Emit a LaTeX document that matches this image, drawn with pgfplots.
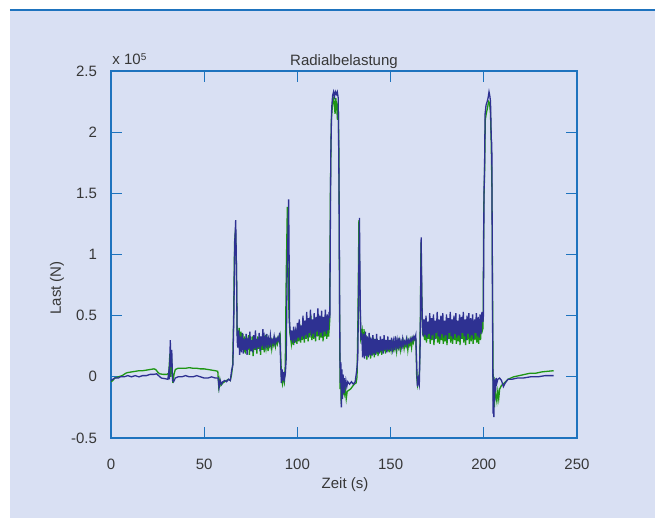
\documentclass[border=0pt]{standalone}
\usepackage{pgfplots}
\pgfplotsset{compat=1.18}
\usepackage{fontspec}
\setmainfont{Liberation Sans}
\definecolor{bgc}{RGB}{217,224,243}
\definecolor{axc}{RGB}{30,115,190}
\definecolor{txtc}{RGB}{55,55,55}
\definecolor{lgreen}{RGB}{30,150,20}
\definecolor{lblue}{RGB}{46,49,146}
\begin{document}
\begin{tikzpicture}
\path[use as bounding box] (-55.5bp,-40bp) rectangle (272bp,219bp);
\fill[bgc] (-50.5bp,-40bp) rectangle (272bp,214bp);
\draw[axc, line width=1bp] (-50.5bp,214bp) -- (272bp,214bp);
\begin{axis}[
  at={(0,0)}, anchor=south west,
  scale only axis, width=233bp, height=183.5bp,
  xmin=0, xmax=250, ymin=-0.5, ymax=2.5,
  xtick={0,50,...,250}, ytick={-0.5,0,0.5,1,1.5,2,2.5},
  axis line style={axc, line width=0.75bp},
  tick style={axc, line width=0.6bp},
  major tick length=5.5bp, tick align=inside,
  /pgf/number format/assume math mode=true,
  every tick label/.append style={font=\fontsize{7.5bp}{9bp}\selectfont, text=txtc},
  yticklabel style={xshift=-3.5bp},
  xticklabel style={yshift=-7bp},
]
% green series
\addplot[lgreen, line width=0.65bp] coordinates {
(0,-0.04)(1,-0.03)(2,-0.01)(4,0.0)(6,0.01)(8,0.03)(9,0.035)(11,0.04)(13,0.045)(15,0.05)(17,0.05)(19,0.055)(21,0.06)(23,0.065)(24,0.06)(25,0.04)(26,0.025)(28,0.02)(30,0.02)(31,0.03)(31.6,0.19)(32,0.0)(32.5,0.15)(33.2,-0.05)(33.8,0.02)(34.5,0.06)(36,0.07)(38,0.07)(40,0.07)(42,0.075)(44,0.07)(46,0.07)(48,0.065)(50,0.065)(52,0.06)(54,0.055)(56,0.05)(57.3,0.045)(57.8,-0.08)(58.4,-0.02)(59,-0.07)(60,-0.05)(61,-0.04)(62,-0.03)(63,-0.02)(64,-0.03)(64.7,0.02)(65.3,0.1)(65.8,0.5)(66.3,1.1)(66.8,1.2)(67.3,0.9)(67.7,0.35)
(68.25,0.30)(68.75,0.40)(69.25,0.26)(69.75,0.37)(70.25,0.24)(70.75,0.35)(71.25,0.20)(71.75,0.33)(72.25,0.19)(72.75,0.31)(73.25,0.22)(73.75,0.34)(74.25,0.18)(74.75,0.30)(75.25,0.21)(75.75,0.33)(76.25,0.17)(76.75,0.31)(77.25,0.22)(77.75,0.29)(78.25,0.19)(78.75,0.33)(79.25,0.23)(79.75,0.30)(80.25,0.18)(80.75,0.32)(81.25,0.22)(81.75,0.29)(82.25,0.20)(82.75,0.34)(83.25,0.24)(83.75,0.30)(84.25,0.21)(84.75,0.29)(85.25,0.25)(85.75,0.32)(86.25,0.23)(86.75,0.29)(87.25,0.26)(87.75,0.31)(88.25,0.25)(88.75,0.30)(89.25,0.27)(89.75,0.32)(90.25,0.29)(90.75,0.33)
(91,0.2)(91.5,-0.02)(92,-0.06)(92.5,0.0)(93,-0.04)(93.5,0.1)(94,0.82)(94.6,1.39)(95,0.9)(95.5,0.5)(96,0.35)
(96.25,0.33)(96.75,0.27)(97.25,0.36)(97.75,0.26)(98.25,0.38)(98.75,0.28)(99.25,0.35)(99.75,0.27)(100.25,0.40)(100.75,0.29)(101.25,0.43)(101.75,0.28)(102.25,0.39)(102.75,0.30)(103.25,0.46)(103.75,0.28)(104.25,0.42)(104.75,0.31)(105.25,0.48)(105.75,0.29)(106.25,0.44)(106.75,0.32)(107.25,0.50)(107.75,0.30)(108.25,0.43)(108.75,0.31)(109.25,0.47)(109.75,0.29)(110.25,0.45)(110.75,0.33)(111.25,0.51)(111.75,0.30)(112.25,0.46)(112.75,0.32)(113.25,0.49)(113.75,0.29)(114.25,0.45)(114.75,0.33)(115.25,0.50)(115.75,0.31)(116.25,0.46)(116.75,0.33)
(117.3,0.45)(117.7,1.5)(118.2,2.1)(118.7,2.2)(119.2,2.28)(119.7,2.25)(120.2,2.15)(120.6,2.28)(121.1,2.2)(121.5,2.1)(121.9,2.25)(122.3,1.8)(122.6,0.6)(122.9,-0.1)(123.2,0.05)(123.5,-0.22)(123.9,-0.05)(124.3,-0.15)(124.7,-0.08)(125.2,-0.14)(125.7,-0.1)(126.2,-0.18)(126.7,-0.12)(127.5,-0.11)(128.5,-0.1)(129.5,-0.08)(130.5,-0.06)(131.5,-0.05)(132,0.0)(132.5,0.5)(133,1.28)(133.5,0.7)(134,0.32)
(134.75,0.38)(135.25,0.22)(135.75,0.39)(136.25,0.18)(136.75,0.34)(137.25,0.14)(137.75,0.31)(138.25,0.17)(138.75,0.33)(139.25,0.15)(139.75,0.30)(140.25,0.18)(140.75,0.32)(141.25,0.16)(141.75,0.29)(142.25,0.19)(142.75,0.31)(143.25,0.17)(143.75,0.28)(144.25,0.20)(144.75,0.30)(145.25,0.18)(145.75,0.29)(146.25,0.21)(146.75,0.31)(147.25,0.19)(147.75,0.28)(148.25,0.21)(148.75,0.30)(149.25,0.20)(149.75,0.27)(150.25,0.22)(150.75,0.30)(151.25,0.20)(151.75,0.27)(152.25,0.23)(152.75,0.29)(153.25,0.21)(153.75,0.28)(154.25,0.24)(154.75,0.29)(155.25,0.22)(155.75,0.28)(156.25,0.25)(156.75,0.29)(157.25,0.23)(157.75,0.28)(158.25,0.25)(158.75,0.30)(159.25,0.22)(159.75,0.29)(160.25,0.26)(160.75,0.30)(161.25,0.24)(161.75,0.31)(162.25,0.28)(162.75,0.32)(163.25,0.30)
(163.6,0.3)(164,0.0)(164.5,-0.07)(165,-0.03)(165.5,0.05)(166,0.5)(166.3,1.1)(166.7,0.7)(167.2,0.35)
(167.75,0.36)(168.25,0.30)(168.75,0.42)(169.25,0.28)(169.75,0.40)(170.25,0.31)(170.75,0.45)(171.25,0.27)(171.75,0.41)(172.25,0.30)(172.75,0.44)(173.25,0.26)(173.75,0.39)(174.25,0.31)(174.75,0.46)(175.25,0.28)(175.75,0.40)(176.25,0.27)(176.75,0.43)(177.25,0.30)(177.75,0.45)(178.25,0.27)(178.75,0.39)(179.25,0.29)(179.75,0.44)(180.25,0.26)(180.75,0.41)(181.25,0.31)(181.75,0.46)(182.25,0.28)(182.75,0.40)(183.25,0.27)(183.75,0.43)(184.25,0.30)(184.75,0.45)(185.25,0.27)(185.75,0.39)(186.25,0.29)(186.75,0.44)(187.25,0.26)(187.75,0.42)(188.25,0.31)(188.75,0.46)(189.25,0.28)(189.75,0.40)(190.25,0.26)(190.75,0.43)(191.25,0.30)(191.75,0.45)(192.25,0.27)(192.75,0.41)(193.25,0.29)(193.75,0.44)(194.25,0.27)(194.75,0.40)(195.25,0.30)(195.75,0.45)(196.25,0.28)(196.75,0.42)(197.25,0.27)(197.75,0.44)(198.25,0.30)(198.75,0.45)(199.25,0.38)
(199.6,0.4)(200,1.4)(200.4,1.65)(200.8,2.1)(201.3,2.15)(202,2.2)(202.6,2.25)(203.1,2.24)(203.6,2.15)(204,1.9)(204.4,1.5)(204.8,0.4)(205.1,-0.2)(205.4,0.0)(205.7,-0.25)(206,-0.05)(206.5,-0.15)(207,-0.2)(207.5,-0.12)(208,-0.18)(208.5,-0.1)(209.5,-0.07)(211,-0.05)(213,-0.02)(216,0.0)(219,0.01)(222,0.02)(225,0.03)(228,0.03)(231,0.04)(234,0.045)(237.5,0.05)
};
% blue series
\addplot[lblue, line width=0.65bp] coordinates {
(0,-0.03)(1,-0.02)(2,-0.01)(4,-0.01)(5,0.0)(7,0.0)(9,0.01)(11,0.0)(13,0.01)(15,0.0)(17,0.01)(19,0.01)(21,0.02)(23,0.02)(24.5,0.025)(25.5,0.01)(27,-0.01)(29,-0.015)(30.5,-0.02)(31,0.04)(31.4,-0.02)(31.8,0.30)(32.2,0.08)(32.6,0.22)(33.0,-0.03)(33.6,-0.04)(34.5,-0.01)(36,0.0)(38,0.0)(40,0.01)(42,0.0)(44,0.0)(46,0.01)(48,0.0)(50,-0.01)(52,-0.01)(54,0.0)(56,-0.01)(57.5,-0.01)(58,-0.09)(58.6,-0.03)(59.3,-0.06)(60,-0.04)(61,-0.03)(62,-0.04)(63,-0.02)(64,-0.03)(64.7,0.05)(65.4,0.1)(65.9,0.5)(66.4,1.1)(66.9,1.28)(67.3,0.9)(67.7,0.3)
(68.0,0.24)(68.5,0.38)(69.0,0.18)(69.5,0.33)(70.0,0.20)(70.5,0.36)(71.0,0.19)(71.5,0.31)(72.0,0.22)(72.5,0.35)(73.0,0.18)(73.5,0.32)(74.0,0.23)(74.5,0.37)(75.0,0.21)(75.5,0.30)(76.0,0.20)(76.5,0.34)(77.0,0.23)(77.5,0.38)(78.0,0.22)(78.5,0.31)(79.0,0.24)(79.5,0.36)(80.0,0.21)(80.5,0.33)(81.0,0.25)(81.5,0.39)(82.0,0.23)(82.5,0.32)(83.0,0.26)(83.5,0.35)(84.0,0.24)(84.5,0.31)(85.0,0.27)(85.5,0.34)(86.0,0.26)(86.5,0.30)(87.0,0.28)(87.5,0.33)(88.0,0.27)(88.5,0.31)(89.0,0.29)(89.5,0.32)(90.0,0.30)(90.5,0.36)
(91.0,0.12)(91.4,-0.05)(91.8,0.06)(92.2,-0.03)(92.6,0.04)(93.0,-0.02)(93.5,0.02)(94.0,0.15)(94.5,0.85)(95.0,1.2)(95.3,1.45)(95.6,0.9)(95.8,0.45)
(96.0,0.40)(96.5,0.30)(97.0,0.38)(97.5,0.28)(98.0,0.41)(98.5,0.31)(99.0,0.37)(99.5,0.29)(100.0,0.44)(100.5,0.32)(101.0,0.47)(101.5,0.30)(102.0,0.42)(102.5,0.33)(103.0,0.50)(103.5,0.31)(104.0,0.46)(104.5,0.34)(105.0,0.53)(105.5,0.32)(106.0,0.48)(106.5,0.36)(107.0,0.55)(107.5,0.33)(108.0,0.47)(108.5,0.35)(109.0,0.52)(109.5,0.32)(110.0,0.49)(110.5,0.37)(111.0,0.56)(111.5,0.34)(112.0,0.50)(112.5,0.36)(113.0,0.54)(113.5,0.33)(114.0,0.49)(114.5,0.37)(115.0,0.55)(115.5,0.35)(116.0,0.51)(116.5,0.38)(117.0,0.53)
(117.4,0.48)(117.9,1.8)(118.4,2.2)(118.9,2.3)(119.4,2.33)(119.9,2.29)(120.4,2.33)(120.9,2.31)(121.4,2.33)(121.9,2.28)(122.3,1.6)(122.7,0.5)(123.0,-0.05)(123.3,0.12)(123.6,-0.25)(123.9,0.06)(124.2,-0.18)(124.5,0.02)(124.8,-0.13)(125.1,-0.01)(125.5,-0.09)(126,-0.03)(126.5,-0.08)(127,-0.04)(128,-0.06)(129,-0.04)(130,-0.06)(131,-0.04)(131.8,0.05)(132.4,0.15)(132.9,0.8)(133.3,1.3)(133.7,0.6)(134.1,0.3)
(134.5,0.36)(135.0,0.16)(135.5,0.35)(136.0,0.15)(136.5,0.37)(137.0,0.17)(137.5,0.33)(138.0,0.16)(138.5,0.36)(139.0,0.18)(139.5,0.32)(140.0,0.17)(140.5,0.34)(141.0,0.19)(141.5,0.31)(142.0,0.18)(142.5,0.35)(143.0,0.20)(143.5,0.30)(144.0,0.19)(144.5,0.33)(145.0,0.21)(145.5,0.31)(146.0,0.19)(146.5,0.34)(147.0,0.22)(147.5,0.30)(148.0,0.20)(148.5,0.33)(149.0,0.22)(149.5,0.30)(150.0,0.21)(150.5,0.32)(151.0,0.23)(151.5,0.29)(152.0,0.22)(152.5,0.33)(153.0,0.24)(153.5,0.30)(154.0,0.23)(154.5,0.32)(155.0,0.25)(155.5,0.29)(156.0,0.24)(156.5,0.31)(157.0,0.26)(157.5,0.29)(158.0,0.27)(158.5,0.31)(159.0,0.26)(159.5,0.30)(160.0,0.28)(160.5,0.31)(161.0,0.29)(161.5,0.32)(162.0,0.30)(162.5,0.33)(163.0,0.31)(163.5,0.34)
(164.0,0.1)(164.4,-0.08)(164.9,-0.02)(165.4,-0.06)(165.9,0.3)(166.4,1.14)(166.8,0.6)(167.2,0.4)
(167.5,0.33)(168.0,0.47)(168.5,0.34)(169.0,0.50)(169.5,0.32)(170.0,0.45)(170.5,0.35)(171.0,0.52)(171.5,0.31)(172.0,0.48)(172.5,0.34)(173.0,0.51)(173.5,0.30)(174.0,0.46)(174.5,0.36)(175.0,0.53)(175.5,0.33)(176.0,0.47)(176.5,0.31)(177.0,0.50)(177.5,0.35)(178.0,0.52)(178.5,0.32)(179.0,0.46)(179.5,0.34)(180.0,0.51)(180.5,0.30)(181.0,0.48)(181.5,0.36)(182.0,0.53)(182.5,0.33)(183.0,0.47)(183.5,0.31)(184.0,0.50)(184.5,0.35)(185.0,0.52)(185.5,0.32)(186.0,0.46)(186.5,0.34)(187.0,0.51)(187.5,0.31)(188.0,0.49)(188.5,0.36)(189.0,0.53)(189.5,0.33)(190.0,0.47)(190.5,0.30)(191.0,0.50)(191.5,0.35)(192.0,0.52)(192.5,0.32)(193.0,0.48)(193.5,0.34)(194.0,0.51)(194.5,0.31)(195.0,0.47)(195.5,0.36)(196.0,0.52)(196.5,0.33)(197.0,0.49)(197.5,0.32)(198.0,0.51)(198.5,0.35)(199.0,0.53)(199.5,0.45)
(199.8,0.5)(200.1,1.5)(200.4,1.7)(200.7,2.15)(201.2,2.22)(201.8,2.25)(202.3,2.28)(202.8,2.33)(203.2,2.3)(203.6,2.25)(204.0,1.95)(204.3,1.9)(204.6,0.8)(204.8,0.2)(205.0,-0.3)(205.2,0.0)(205.4,-0.33)(205.6,-0.05)(205.8,-0.2)(206.0,-0.02)(206.3,-0.12)(206.6,-0.01)(207,-0.05)(207.5,-0.02)(208.5,-0.01)(209.5,-0.03)(210.5,-0.08)(211.5,-0.05)(213,-0.02)(215,-0.02)(218,-0.01)(221,-0.01)(225,0.0)(229,0.0)(233,0.01)(237.5,0.01)
};
\end{axis}
\begin{scope}[every node/.style={font=\fontsize{7.5bp}{9bp}\selectfont, text=txtc, inner sep=0pt}]
\node[anchor=base] at (116.5bp,186bp) {Radialbelastung};
\node[anchor=base west] at (0.5bp,186.5bp) {x 10\raisebox{0.55ex}{\fontsize{5bp}{6bp}\selectfont 5}};
\node[rotate=90] at (-27bp,75bp) {Last (N)};
\node at (117bp,-23.5bp) {Zeit (s)};
\end{scope}
\end{tikzpicture}
\end{document}
